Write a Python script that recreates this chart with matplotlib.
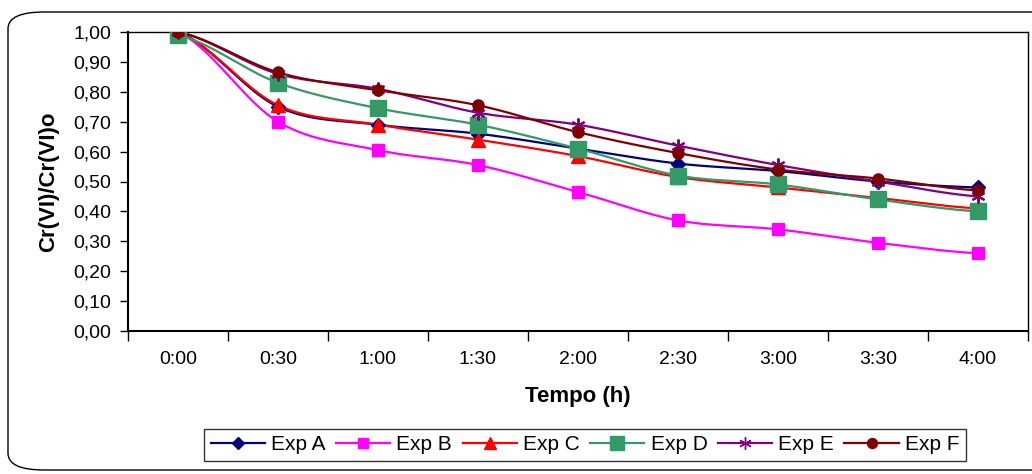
import numpy as np
import matplotlib.pyplot as plt
from matplotlib.lines import Line2D
from matplotlib.patches import FancyBboxPatch
from matplotlib.ticker import FuncFormatter

plt.rcParams['font.family'] = ['Liberation Sans', 'DejaVu Sans']

tempos = ["0:00", "0:30", "1:00", "1:30", "2:00", "2:30", "3:00", "3:30", "4:00"]
exp_a = [1.00, 0.75, 0.69, 0.66, 0.61, 0.56, 0.535, 0.50, 0.48]
exp_b = [1.00, 0.70, 0.605, 0.555, 0.465, 0.37, 0.34, 0.295, 0.26]
exp_c = [1.00, 0.755, 0.69, 0.64, 0.585, 0.515, 0.48, 0.445, 0.41]
exp_d = [0.99, 0.83, 0.745, 0.69, 0.61, 0.52, 0.49, 0.44, 0.40]
exp_e = [1.00, 0.86, 0.81, 0.73, 0.69, 0.62, 0.555, 0.50, 0.45]
exp_f = [1.00, 0.865, 0.805, 0.755, 0.665, 0.595, 0.54, 0.51, 0.47]

series = [
    ("Exp A", exp_a, "#000080", "D", 7),
    ("Exp B", exp_b, "#FF00FF", "s", 8),
    ("Exp C", exp_c, "#FF0000", "^", 9.5),
    ("Exp D", exp_d, "#339966", "s", 11.5),
    ("Exp E", exp_e, "#800080", (6, 2, 0), 10),
    ("Exp F", exp_f, "#800000", "o", 8),
]


def smooth(y, n=20):
    # catmull-rom, only for drawing the curve like excel does
    y = np.asarray(y, float)
    p = np.concatenate([[y[0]], y, [y[-1]]])
    xs, ys = [], []
    for i in range(len(y) - 1):
        t = np.linspace(0, 1, n, endpoint=False)
        p0, p1, p2, p3 = p[i], p[i + 1], p[i + 2], p[i + 3]
        yy = 0.5 * (2 * p1 + (-p0 + p2) * t + (2 * p0 - 5 * p1 + 4 * p2 - p3) * t ** 2
                    + (-p0 + 3 * p1 - 3 * p2 + p3) * t ** 3)
        xs.append(i + t)
        ys.append(yy)
    xs.append([len(y) - 1])
    ys.append([y[-1]])
    return np.concatenate(xs), np.concatenate(ys)


fig = plt.figure(figsize=(10.32, 4.74), dpi=100)
fig.patches.append(FancyBboxPatch((8 / 1032, 4 / 474), 1.2, 458 / 474, boxstyle="round,pad=0,rounding_size=0.035",
                                  transform=fig.transFigure, facecolor="none", edgecolor="black", linewidth=1.0,
                                  mutation_aspect=474 / 1032 * 2.2, zorder=-1))
ax = fig.add_axes([128 / 1032, 1 - 331 / 474, 900 / 1032, 299 / 474])

x = np.arange(len(tempos))
handles = []
for nome, vals, cor, mk, ms in series:
    sx, sy = smooth(vals)
    ax.plot(sx, sy, color=cor, linewidth=1.6, zorder=2)
    ax.plot(x, vals, linestyle="none", marker=mk, markersize=ms, color=cor, markeredgecolor=cor,
            markeredgewidth=1.5 if mk == (6, 2, 0) else 1, zorder=3)
    handles.append(Line2D([], [], color=cor, linewidth=1.6, marker=mk, markersize=ms * 0.9,
                          markeredgecolor=cor))

ax.set_xlim(-0.5, len(tempos) - 0.5)
ax.set_ylim(0, 1.0)
ax.set_yticks(np.arange(0, 1.01, 0.1))
ax.yaxis.set_major_formatter(FuncFormatter(lambda v, p: f"{v:.2f}".replace(".", ",")))
ax.set_xticks(x)
ax.set_xticklabels(tempos)
ax.set_xticks(np.arange(-0.5, len(tempos), 1), minor=True)
ax.tick_params(axis="x", which="major", length=0, pad=14.5, labelsize=14)
ax.tick_params(axis="x", which="minor", length=7, width=1, direction="out")
ax.tick_params(axis="y", length=6, width=1, direction="out", labelsize=14, pad=6)
for s in ax.spines.values():
    s.set_linewidth(1.0)
ax.spines["left"].set_linewidth(1.5)
ax.spines["bottom"].set_linewidth(1.5)

ax.set_ylabel("Cr(VI)/Cr(VI)o", fontsize=16, fontweight="bold", labelpad=10)
ax.set_xlabel("Tempo (h)", fontsize=16, fontweight="bold", labelpad=13)

leg = fig.legend(handles, [s[0] for s in series], loc="center", bbox_to_anchor=(585 / 1032, 1 - 445 / 474),
                 ncol=6, fontsize=15, frameon=True, fancybox=False, edgecolor="black", handlelength=2.6,
                 handletextpad=0.3, columnspacing=0.5, borderpad=0.3)
leg.get_frame().set_linewidth(1.0)

fig.savefig("out.png", dpi=100)
